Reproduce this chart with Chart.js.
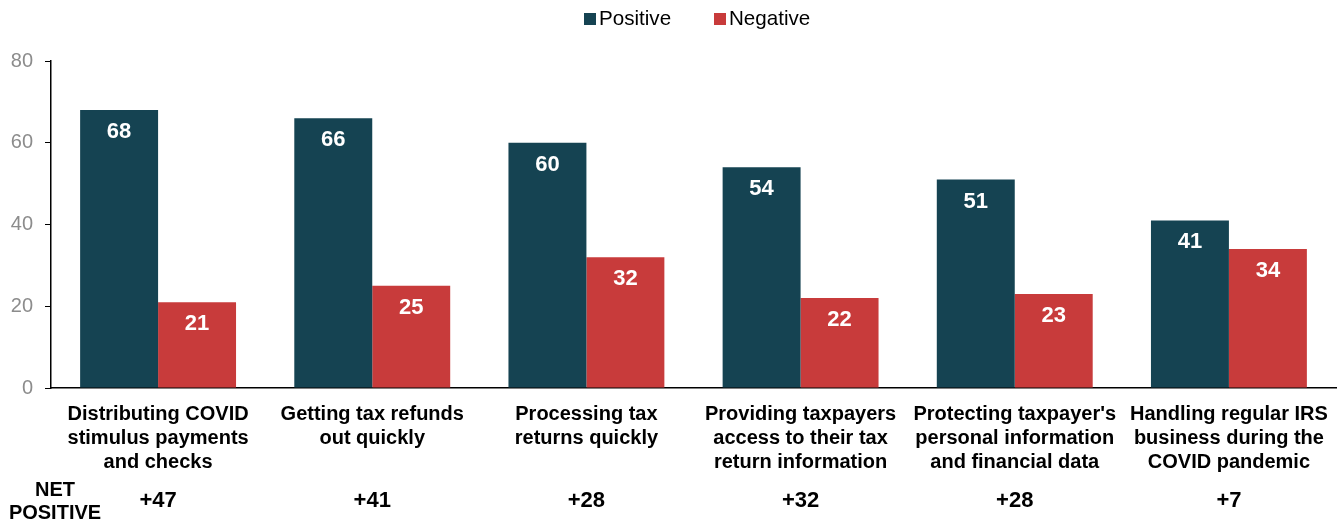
<!DOCTYPE html>
<html lang="en">
  <head>
    <meta charset="UTF-8" />
    <title>IRS performance ratings</title>
    <script src="https://cdn.jsdelivr.net/npm/chart.js"></script>
    <style>
      html, body { margin: 0; padding: 0; background: #fff; }
      #wrap { width: 1340px; height: 524px; }
    </style>
  </head>
  <body>
    <div id="wrap"><canvas id="chart" width="1340" height="524"></canvas></div>
    <script>
      // data
      const categories = [
        ["Distributing COVID", "stimulus payments", "and checks"],
        ["Getting tax refunds", "out quickly"],
        ["Processing tax", "returns quickly"],
        ["Providing taxpayers", "access to their tax", "return information"],
        ["Protecting taxpayer's", "personal information", "and financial data"],
        ["Handling regular IRS", "business during the", "COVID pandemic"],
      ];
      const positive = [68, 66, 60, 54, 51, 41];
      const negative = [21, 25, 32, 22, 23, 34];
      const netPositive = ["+47", "+41", "+28", "+32", "+28", "+7"];
      const yTicks = [0, 20, 40, 60, 80];

      const FONT = "Liberation Sans, Arial, Helvetica, sans-serif";

      // white numbers inside the top of each bar
      const barLabels = {
        id: "barLabels",
        afterDatasetsDraw(chart) {
          const ctx = chart.ctx;
          ctx.save();
          ctx.font = "bold 22px " + FONT;
          ctx.fillStyle = "#ffffff";
          ctx.textAlign = "center";
          ctx.textBaseline = "middle";
          chart.data.datasets.forEach((ds, i) => {
            chart.getDatasetMeta(i).data.forEach((bar, j) => {
              ctx.fillText(ds.data[j], bar.x, bar.y + 22);
            });
          });
          ctx.restore();
        },
      };

      // "NET POSITIVE" row under the category labels
      const netRow = {
        id: "netRow",
        afterDraw(chart) {
          const ctx = chart.ctx;
          const x = chart.scales.x;
          const base = chart.chartArea.bottom;
          ctx.save();
          ctx.fillStyle = "#000";
          ctx.textAlign = "center";
          ctx.textBaseline = "middle";
          ctx.font = "bold 20px " + FONT;
          ctx.fillText("NET", 55, base + 102);
          ctx.fillText("POSITIVE", 55, base + 125);
          ctx.font = "bold 22px " + FONT;
          netPositive.forEach((v, i) => {
            ctx.fillText(v, x.getPixelForValue(i), base + 113);
          });
          ctx.restore();
        },
      };

      // legend at the top, slightly right of centre like the original
      const topLegend = {
        id: "topLegend",
        afterDraw(chart) {
          const ctx = chart.ctx;
          const xs = [584, 714];
          ctx.save();
          ctx.font = "20.6px " + FONT;
          ctx.textBaseline = "middle";
          ctx.textAlign = "left";
          chart.data.datasets.forEach((ds, i) => {
            ctx.fillStyle = ds.backgroundColor;
            ctx.fillRect(xs[i], 13, 12, 12);
            ctx.fillStyle = "#000";
            ctx.fillText(ds.label, xs[i] + 15, 19);
          });
          ctx.restore();
        },
      };

      new Chart(document.getElementById("chart"), {
        type: "bar",
        data: {
          labels: categories,
          datasets: [
            {
              label: "Positive",
              data: positive,
              backgroundColor: "#154352",
            },
            {
              label: "Negative",
              data: negative,
              backgroundColor: "#c83b3b",
            },
          ],
        },
        options: {
          responsive: false,
          animation: false,
          events: [],
          layout: { padding: { left: 0, right: 4, top: 0, bottom: 51 } },
          datasets: {
            bar: { categoryPercentage: 0.728, barPercentage: 1.0 },
          },
          scales: {
            x: {
              grid: { display: true, drawOnChartArea: false, drawTicks: false },
              border: { color: "#000", width: 1.5 },
              ticks: {
                color: "#000",
                font: { family: FONT, size: 20, weight: "bold", lineHeight: 1.2 },
                maxRotation: 0,
                autoSkip: false,
                padding: 14,
              },
              afterFit(scale) {
                scale.height = 85;
                scale.paddingLeft = 0;
                scale.paddingRight = 0;
              },
            },
            y: {
              min: 0,
              max: 80,
              afterBuildTicks(scale) {
                scale.ticks = yTicks.map((v) => ({ value: v }));
              },
              grid: {
                display: true,
                drawOnChartArea: false,
                drawTicks: true,
                tickLength: 6,
                color: "#000",
              },
              border: { color: "#000", width: 1.5 },
              ticks: {
                color: "#8c8c8c",
                font: { family: FONT, size: 20 },
                padding: 12,
              },
              afterFit(scale) {
                scale.width = 51;
                scale.paddingTop = 61;
              },
            },
          },
          plugins: {
            legend: { display: false },
            tooltip: { enabled: false },
          },
        },
        plugins: [barLabels, netRow, topLegend],
      });
    </script>
  </body>
</html>
